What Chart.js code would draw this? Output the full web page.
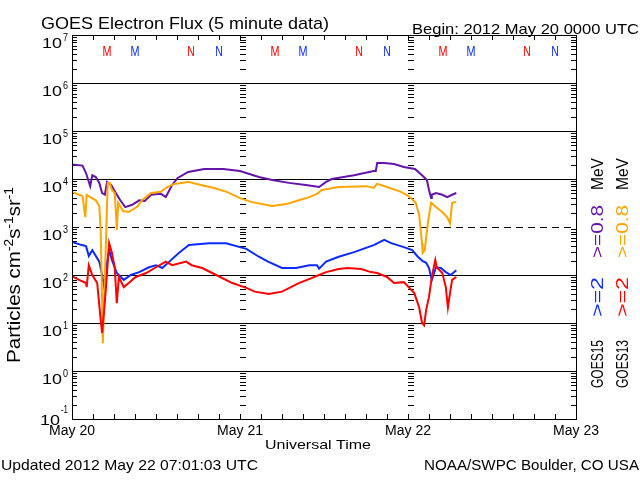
<!DOCTYPE html>
<html><head><meta charset="utf-8">
<script src="https://cdn.jsdelivr.net/npm/chart.js@4/dist/chart.umd.min.js"></script>
<style>html,body{margin:0;padding:0;background:#fff}canvas{display:block}</style>
</head><body>
<canvas id="c" width="640" height="480"></canvas>
<script>
// ---- axis / label data ----
const dayLabels = ['May 20', 'May 21', 'May 22', 'May 23'];
const dayTicks = [0, 24, 48, 72];           // hours since 2012 May 20 00 UT
const decadeExps = [-1, 0, 1, 2, 3, 4, 5, 6, 7];
const decadeSup = ['-1', '0', '1', '2', '3', '4', '5', '6', '7'];
const markerLabels = ['M', 'M', 'N', 'N'];
const markerHours = [5, 9, 17, 21];
const markerSat = ['GOES13', 'GOES15', 'GOES13', 'GOES15'];

// ---- series (hours, flux) ----
const g15e08Hours = [0,1.5,2.0,2.6,2.9,3.4,3.9,4.3,4.7,5.0,5.6,6.0,6.9,7.6,8.6,9.6,10.4,11.3,12.7,13.4,14.3,15.1,16.6,18.9,21.6,24,26.7,28.6,31,33.4,35.3,36.3,37.1,40.3,43.1,43.4,43.6,44.6,46,47.4,49,50,50.7,51,51.3,51.4,52,52.9,53.6,54.3,54.9];
const g15e08Flux  = [20000,19000,13300,7100,12000,11000,8300,5100,4700,8700,7500,5900,3600,2600,2900,3600,3500,4700,4900,4200,7500,10500,14000,16200,16200,14700,11000,9500,8300,7500,6800,8700,10000,12000,14700,14700,21500,21500,20500,17800,16200,12000,9500,5900,4000,4700,5100,4700,4200,4700,5100];

const g13e08Hours = [0,1.5,1.9,2.1,2.6,3.4,3.9,4.1,4.3,4.4,4.6,4.9,5.1,5.4,5.7,6.1,6.3,6.4,6.6,7.3,8.1,9.4,10,11.3,12.7,13.6,14.6,16.6,18.4,20.3,22.1,24,25.7,28.6,30.6,32.4,33.9,35,35.7,38.1,42.1,43.1,43.6,45,47,48.1,49.1,49.6,50,50.1,50.4,50.6,50.9,51.3,52,52.9,53.6,54,54.3,54.9];
const g13e08Flux  = [5400,4400,1600,4700,4200,3600,2700,870,30,3.8,30,870,8300,8300,5900,5100,1780,870,3200,2150,2050,2700,3600,5100,5400,6800,7900,8700,7500,6500,5400,4000,3300,2750,3000,3600,4200,4900,5900,6800,7100,6500,7900,6800,5400,4400,3200,1780,460,290,330,620,1400,3200,2600,2050,1600,1200,3200,3300];

const g15e2Hours = [0,1.4,2,2.4,2.9,3.9,4.3,4.6,4.9,5.3,5.7,6.4,7.4,8.4,9.6,11,12,12.9,13.9,15.3,16.7,19.6,22,24.9,26.7,28,30,32,33.9,35,35.3,36.3,38.1,40.3,43.1,44.6,45.6,47.4,48.6,49.4,50.1,50.6,51,51.4,52,52.7,53.4,54.1,54.9];
const g15e2Flux  = [490,420,400,250,330,190,100,56,145,330,205,110,79,100,115,145,160,140,190,290,420,460,460,350,240,190,140,140,160,160,135,190,240,300,420,540,460,380,330,240,195,180,140,79,145,140,115,100,125];

const g13e2Hours = [0,1,2,2.1,2.4,2.9,3.6,4.1,4.3,4.6,4.9,5.3,5.7,6.1,6.4,6.7,7.4,8.1,9.1,10.6,12,13.4,14.3,16.3,17.1,18.6,20.6,22.9,24.9,26.1,28.1,30,32.4,34.3,35.3,36.3,38.1,39.3,41.3,42.7,43.6,45,46,47.4,48.9,49.6,50,50.3,50.6,51,51.4,51.9,52.1,52.9,53.4,53.7,54,54.3,54.9];
const g13e2Flux  = [95,79,68,56,160,100,68,11.5,6.2,19,68,460,290,145,26,91,56,68,91,110,145,190,160,190,160,140,100,68,54,45,40,45,68,87,100,115,133,140,133,115,110,91,68,71,42,21,10,9,19,35,91,205,145,110,56,21,42,79,91];

const COL = { purple: '#6414a8', orange: '#ffa500', blue: '#0a2aff', red: '#ff0000', black: '#000' };
const FONT = "'Liberation Sans', 'DejaVu Sans', Arial, sans-serif";

function pts(h, v) { return h.map((x, i) => ({ x: x, y: v[i] })); }

function fitText(ctx, text, x, y, w, size, color, rot, align) {
  ctx.save();
  ctx.font = size + 'px ' + FONT;
  ctx.fillStyle = color;
  const m = ctx.measureText(text).width;
  ctx.translate(x, y);
  if (rot) ctx.rotate(rot);
  const s = w / m;
  ctx.scale(s, 1);
  ctx.textBaseline = 'alphabetic';
  ctx.textAlign = 'left';
  let ox = 0;
  if (align === 'center') ox = -m / 2;
  ctx.fillText(text, ox, 0);
  ctx.restore();
}

const deco = {
  id: 'deco',
  beforeDatasetsDraw(chart) {
    const { ctx, chartArea: { left, right, top, bottom }, scales: { x, y } } = chart;
    ctx.save();
    ctx.strokeStyle = '#000';
    ctx.lineWidth = 1;
    // dashed 10^3 line
    ctx.setLineDash([7, 5]);
    const yd = Math.round(y.getPixelForValue(1000)) + 0.5;
    ctx.beginPath(); ctx.moveTo(left, yd); ctx.lineTo(right, yd); ctx.stroke();
    ctx.setLineDash([]);
    ctx.beginPath();
    for (let k = 0; k < decadeExps.length - 1; k++) {
      const e = decadeExps[k];
      for (let m = 2; m <= 9; m++) {
        const py = Math.round(y.getPixelForValue(m * Math.pow(10, e))) + 0.5;
        ctx.moveTo(left, py); ctx.lineTo(left + 5, py);
        ctx.moveTo(right - 5, py); ctx.lineTo(right, py);
        for (const d of [24, 48]) {
          const px = Math.round(x.getPixelForValue(d));
          ctx.moveTo(px, py); ctx.lineTo(px + 6, py);
        }
      }
    }
    for (let h = 3; h < 72; h += 3) {
      const px = Math.round(x.getPixelForValue(h)) + 0.5;
      ctx.moveTo(px, top); ctx.lineTo(px, top + 5);
      ctx.moveTo(px, bottom); ctx.lineTo(px, bottom - 5);
    }
    ctx.stroke();
    ctx.restore();
  },
  afterDatasetsDraw(chart) {
    const { ctx, chartArea: { left, right, top, bottom } } = chart;
    ctx.save();
    ctx.strokeStyle = '#000'; ctx.lineWidth = 1;
    ctx.strokeRect(Math.round(left) + 0.5, Math.round(top) + 0.5, Math.round(right - left), Math.round(bottom - top));
    ctx.restore();
  },
  afterDraw(chart) {
    const { ctx, scales: { x, y } } = chart;
    // y tick labels 10^n
    decadeExps.forEach((e, i) => {
      const py = y.getPixelForValue(Math.pow(10, e));
      const last = i === 0;
      const sup = decadeSup[i];
      const supW = sup.length > 1 ? 7 : 5;
      const supX = 68 - supW;
      const base = last ? py + 6 : py + 12.5;
      const sb = last ? py - 6 : py + 5.5;
      fitText(ctx, '10', supX - 21, base, 20, 15, '#000');
      fitText(ctx, sup, supX, sb, supW, 10, '#000');
    });
    // y title
    const segs = [['Particles cm', 0], ['-2', 1], ['s', 0], ['-1', 1], ['sr', 0], ['-1', 1]];
    ctx.save();
    let tot = 0;
    segs.forEach(s => { ctx.font = (s[1] ? 12 : 18) + 'px ' + FONT; tot += ctx.measureText(s[0]).width; });
    ctx.translate(20, 363); ctx.rotate(-Math.PI / 2); ctx.scale(176 / tot, 1);
    let cx = 0;
    segs.forEach(s => {
      ctx.font = (s[1] ? 12 : 18) + 'px ' + FONT; ctx.fillStyle = '#000';
      ctx.fillText(s[0], cx, s[1] ? -7 : 0);
      cx += ctx.measureText(s[0]).width;
    });
    ctx.restore();
    // M / N markers
    for (let d = 0; d < 3; d++) {
      markerHours.forEach((h, i) => {
        const px = x.getPixelForValue(d * 24 + h);
        const c = markerSat[i] === 'GOES13' ? COL.red : COL.blue;
        fitText(ctx, markerLabels[i], px, 56, markerLabels[i] === 'M' ? 9 : 7.5, 15, c, 0, 'center');
      });
    }
    // titles
    fitText(ctx, 'GOES Electron Flux (5 minute data)', 41, 29, 288, 17, '#000');
    fitText(ctx, 'Begin: 2012 May 20 0000 UTC', 412, 34, 227, 15, '#000');
    fitText(ctx, 'Universal Time', 265, 449, 106, 13, '#000');
    fitText(ctx, 'Updated 2012 May 22 07:01:03 UTC', 1, 470, 257, 15, '#000');
    fitText(ctx, 'NOAA/SWPC Boulder, CO USA', 424, 470, 215, 15, '#000');
    // right-side legend columns
    const cols = [
      [603, [['GOES15', 388, 340, '#000'], ['>=2', 317, 277, COL.blue], ['>=0.8', 258, 205, COL.purple], ['MeV', 190, 158, '#000']]],
      [628, [['GOES13', 388, 340, '#000'], ['>=2', 317, 277, COL.red], ['>=0.8', 258, 205, COL.orange], ['MeV', 190, 158, '#000']]]
    ];
    cols.forEach(([bx, items]) => {
      items.forEach(([t, y0, y1, c]) => fitText(ctx, t, bx, y0, y0 - y1, 17, c, -Math.PI / 2));
    });
  }
};

new Chart(document.getElementById('c'), {
  type: 'line',
  data: {
    datasets: [
      { label: 'GOES13 >=2 MeV', data: pts(g13e2Hours, g13e2Flux), borderColor: COL.red, order: 0 },
      { label: 'GOES13 >=0.8 MeV', data: pts(g13e08Hours, g13e08Flux), borderColor: COL.orange, order: 1 },
      { label: 'GOES15 >=2 MeV', data: pts(g15e2Hours, g15e2Flux), borderColor: COL.blue, order: 2 },
      { label: 'GOES15 >=0.8 MeV', data: pts(g15e08Hours, g15e08Flux), borderColor: COL.purple, order: 3 }
    ]
  },
  options: {
    responsive: false,
    animation: false,
    devicePixelRatio: 1,
    layout: { padding: { left: 0, right: 64, top: 35, bottom: 0 } },
    elements: { point: { radius: 0 }, line: { borderWidth: 2, tension: 0, fill: false } },
    plugins: { legend: { display: false }, tooltip: { enabled: false }, title: { display: false } },
    scales: {
      x: {
        type: 'linear', min: 0, max: 72,
        afterBuildTicks: s => { s.ticks = dayTicks.map(v => ({ value: v })); },
        afterFit: s => { s.height = 61; },
        grid: { display: false, drawTicks: false },
        border: { display: false },
        ticks: {
          callback: v => dayLabels[dayTicks.indexOf(v)],
          color: '#000', font: { family: FONT, size: 14 }, padding: 4,
          maxRotation: 0, autoSkip: false
        }
      },
      y: {
        type: 'logarithmic', min: 0.1, max: 1e7,
        afterBuildTicks: s => { s.ticks = decadeExps.map(e => ({ value: Math.pow(10, e) })); },
        afterFit: s => { s.width = 72; },
        grid: {
          drawTicks: false, lineWidth: 1,
          color: c => (c.tick && Math.abs(Math.log10(c.tick.value) - 3) < 1e-6) ? 'rgba(0,0,0,0)' : '#000'
        },
        border: { display: false },
        ticks: { display: false }
      }
    }
  },
  plugins: [deco]
});
</script>
</body></html>
